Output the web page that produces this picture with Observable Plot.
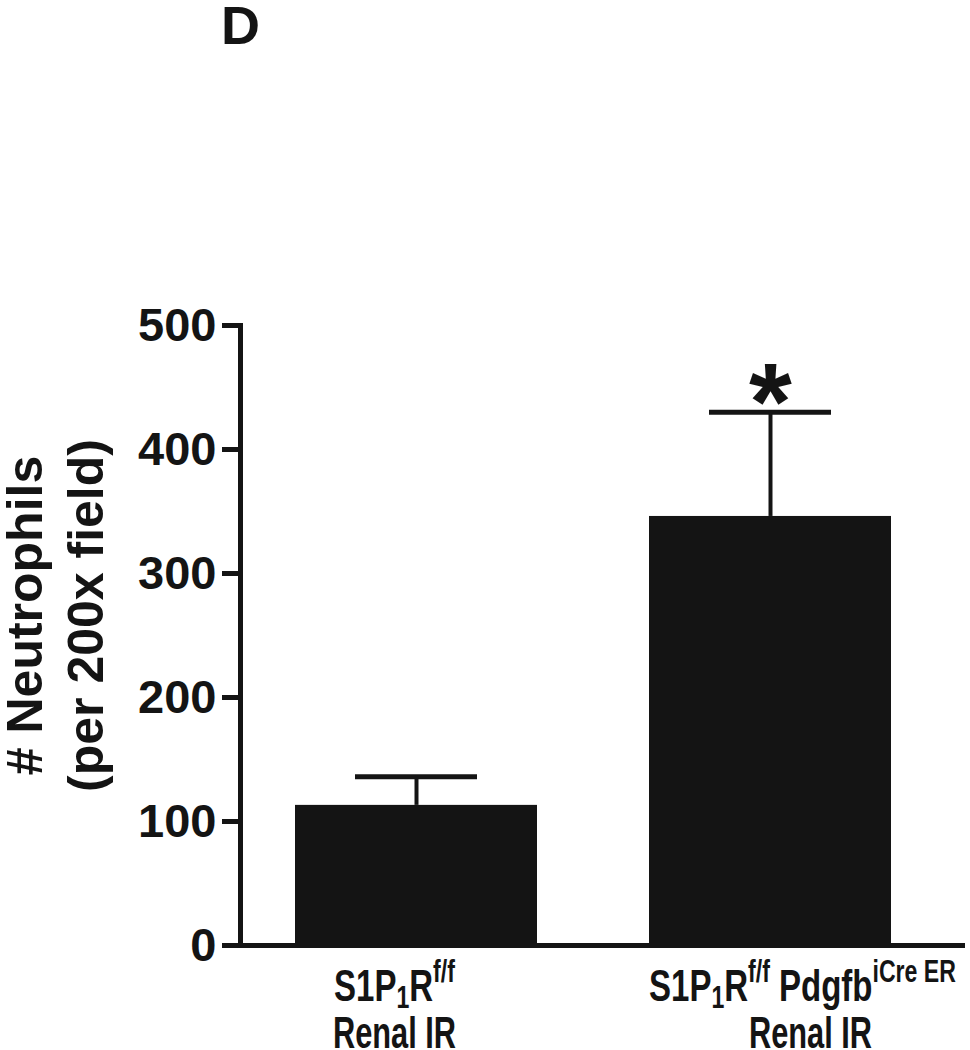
<!DOCTYPE html>
<html>
<head>
<meta charset="utf-8">
<script src="https://cdn.jsdelivr.net/npm/d3@7"></script>
<script src="https://cdn.jsdelivr.net/npm/@observablehq/plot@0.6"></script>
<style>
  html, body { margin: 0; padding: 0; background: #ffffff; }
</style>
</head>
<body>
<div id="chart"></div>
<script>
// ---- data ----
const categories = ["S1P1Rf/f Renal IR", "S1P1Rf/f PdgfbiCreER Renal IR"];
const means = [113, 346];
const sems = [23, 84];
const significance = ["", "*"];
const labelLine1 = ["S1P_1R^{f/f}", "S1P_1R^{f/f} Pdgfb^{iCre ER}"];
const labelLine2 = ["Renal IR", "Renal IR"];
const yTicks = [0, 100, 200, 300, 400, 500];
const yLabel = "# Neutrophils\n(per 200x field)";
const panelLabel = "D";

const data = categories.map((c, i) => ({
  cat: c, mean: means[i], top: means[i] + sems[i],
  star: significance[i], line1: labelLine1[i], line2: labelLine2[i]
}));

const ink = "#141414";
const xLabelSize = 44;

const chart = Plot.plot({
  width: 970,
  height: 1050,
  marginLeft: 240,
  marginRight: 5,
  marginTop: 325,
  marginBottom: 105,
  style: {fontFamily: "'Liberation Sans', Arial, sans-serif", fontWeight: "bold", background: "#ffffff", color: ink, overflow: "visible"},
  x: {domain: categories, range: [295, 892], paddingInner: 0.315, paddingOuter: 0, axis: null},
  y: {domain: [0, 500], axis: null},
  marks: [
    Plot.barY(data, {x: "cat", y: "mean", fill: ink}),
    Plot.ruleX(data, {x: "cat", y1: "mean", y2: "top", stroke: ink, strokeWidth: 4}),
    Plot.tickY(data, {x: "cat", y: "top", stroke: ink, strokeWidth: 5, insetLeft: 60, insetRight: 60}),
    Plot.text(data, {x: "cat", y: "top", text: "star", fontSize: 110, lineAnchor: "bottom", dy: 27, fill: ink}),
    Plot.axisY({ticks: yTicks, tickSize: 18, strokeWidth: 5, tickPadding: 6, fontSize: 47, label: null, tickFormat: d => String(d), stroke: ink, fill: ink}),
    Plot.frame({anchor: "left", stroke: ink, strokeWidth: 5}),
    Plot.ruleY([0], {stroke: ink, strokeWidth: 5}),
    Plot.text([yLabel], {frameAnchor: "left", text: d => d, rotate: -90, textAnchor: "middle", lineAnchor: "middle", fontSize: 50, lineHeight: 1.22, dx: -188, dy: -20, fill: ink}),
    Plot.text([panelLabel], {frameAnchor: "top-left", text: d => d, textAnchor: "middle", fontSize: 54, lineAnchor: "bottom", dy: -282, fill: ink}),
    ...data.map((d, i) => Plot.text([d], {x: "cat", frameAnchor: "bottom", text: "line1", textAnchor: "middle", lineAnchor: "bottom", dy: 55, dx: i === 0 ? -22 : 32, fontSize: xLabelSize, fill: ink})),
    ...data.map((d, i) => Plot.text([d], {x: "cat", frameAnchor: "bottom", text: "line2", textAnchor: "middle", lineAnchor: "bottom", dy: 102, dx: i === 0 ? -22 : 40, fontSize: xLabelSize, fill: ink}))
  ]
});

document.getElementById("chart").appendChild(chart);

// rich text: ^{..} superscript, _x subscript
function parseMarkup(m) {
  const out = []; let i = 0, buf = "";
  const flush = () => { if (buf) { out.push({type: "norm", text: buf}); buf = ""; } };
  while (i < m.length) {
    const c = m[i];
    if (c === "^" || c === "_") {
      flush();
      const type = c === "^" ? "sup" : "sub";
      i++;
      let t = "";
      if (m[i] === "{") { i++; while (i < m.length && m[i] !== "}") t += m[i++]; i++; }
      else t = m[i++];
      out.push({type, text: t});
    } else { buf += c; i++; }
  }
  flush();
  return out;
}

const line1Set = new Set(labelLine1), line2Set = new Set(labelLine2);
d3.select(chart).selectAll("text").each(function () {
  const el = d3.select(this);
  const content = this.textContent;
  const isLine1 = line1Set.has(content), isLine2 = line2Set.has(content);
  if (!isLine1 && !isLine2) return;
  const squeeze = isLine1 ? 0.75 : 0.7;
  // condensed face: squeeze horizontally around the text anchor
  const tr = el.attr("transform");
  if (tr) {
    el.attr("transform", tr + ` scale(${squeeze},1)`);
  } else {
    const x = +el.attr("x") || 0;
    el.attr("transform", `translate(${x},0) scale(${squeeze},1) translate(${-x},0)`);
  }
  if (!/[\^_]/.test(content)) return;
  el.text(null);
  const F = xLabelSize;
  let shift = 0;
  parseMarkup(content).forEach(s => {
    const t = el.append("tspan").text(s.text);
    const target = s.type === "sup" ? -0.42 * F : s.type === "sub" ? 0.18 * F : 0;
    if (target !== shift) { t.attr("dy", target - shift); shift = target; }
    if (s.type !== "norm") t.attr("font-size", 0.7 * F);
  });
});
</script>
</body>
</html>
